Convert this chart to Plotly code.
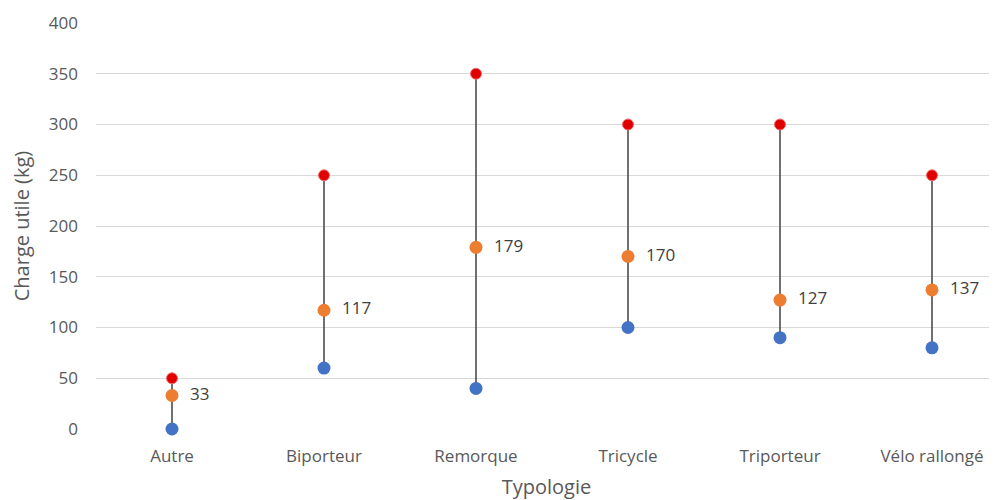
import plotly.graph_objects as go

categories = ["Autre", "Biporteur", "Remorque", "Tricycle", "Triporteur", "Vélo rallongé"]
min_values = [0, 60, 40, 100, 90, 80]
mean_values = [33, 117, 179, 170, 127, 137]
max_values = [50, 250, 350, 300, 300, 250]

FONT = "Open Sans, Liberation Sans, sans-serif"

line_x, line_y = [], []
for c, lo, hi in zip(categories, min_values, max_values):
    line_x += [c, c, None]
    line_y += [lo, hi, None]

fig = go.Figure()
fig.add_trace(go.Scatter(x=line_x, y=line_y, mode="lines",
                         line=dict(color="#404040", width=1.5),
                         hoverinfo="skip", showlegend=False, cliponaxis=False))
fig.add_trace(go.Scatter(x=categories, y=min_values, mode="markers", name="Min",
                         marker=dict(color="#4472C4", size=13, line=dict(width=0)),
                         showlegend=False, cliponaxis=False))
fig.add_trace(go.Scatter(x=categories, y=max_values, mode="markers", name="Max",
                         marker=dict(color="#E00000", size=11,
                                     line=dict(color="#F07070", width=1)),
                         showlegend=False, cliponaxis=False))
fig.add_trace(go.Scatter(x=categories, y=mean_values, mode="markers+text", name="Moyenne",
                         marker=dict(color="#ED7D31", size=13, line=dict(width=0)),
                         text=["  " + str(v) for v in mean_values],
                         textposition="middle right",
                         textfont=dict(family=FONT, size=17, color="#404040"),
                         showlegend=False, cliponaxis=False))

fig.update_layout(
    width=989, height=492,
    margin=dict(l=88, r=0, t=15, b=71, autoexpand=False),
    plot_bgcolor="white", paper_bgcolor="white",
    font=dict(family=FONT, color="#595959"),
    xaxis=dict(type="category", categoryorder="array", categoryarray=categories,
               range=[-0.5, -0.5 + 901 / 152], showgrid=False, zeroline=False,
               showline=False, ticks="", automargin=False,
               tickfont=dict(family=FONT, size=17, color="#595959"),
               ticklabelstandoff=15,
               title=dict(text="Typologie", font=dict(family=FONT, size=20, color="#595959"),
                          standoff=14)),
    yaxis=dict(range=[0, 400], dtick=50, showgrid=True, gridcolor="#D9D9D9", gridwidth=1,
               zeroline=False, showline=False, ticks="", automargin=False,
               tickfont=dict(family=FONT, size=17, color="#595959"),
               ticklabelstandoff=17,
               title=dict(text="Charge utile (kg)", font=dict(family=FONT, size=20, color="#595959"),
                          standoff=13)),
)

fig.write_html("out.html")
